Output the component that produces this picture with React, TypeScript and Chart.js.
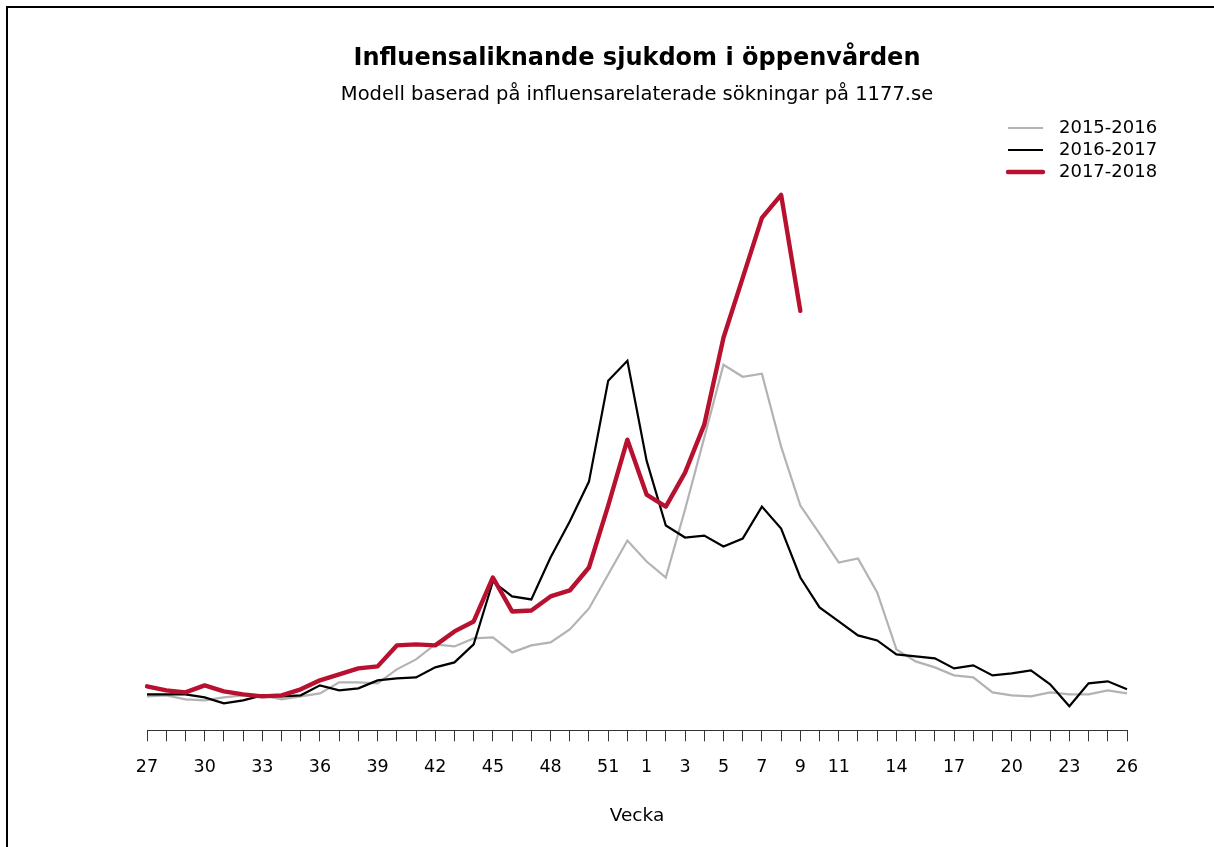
import React, { useEffect, useRef } from "react";
import { Chart, registerables } from "chart.js";

Chart.register(...registerables);

// Week categories (season runs from week 27 to week 26)
const weeks: string[] = [
  "27", "28", "29", "30", "31", "32", "33", "34", "35", "36", "37", "38", "39",
  "40", "41", "42", "43", "44", "45", "46", "47", "48", "49", "50", "51", "52",
  "1", "2", "3", "4", "5", "6", "7", "8", "9", "10", "11", "12", "13",
  "14", "15", "16", "17", "18", "19", "20", "21", "22", "23", "24", "25", "26",
];

// Week labels shown under the axis
const tickLabels: string[] = [
  "27", "30", "33", "36", "39", "42", "45", "48", "51",
  "1", "3", "5", "7", "9", "11", "14", "17", "20", "23", "26",
];

const seriesNames: string[] = ["2015-2016", "2016-2017", "2017-2018"];

const season1516: (number | null)[] = [
  6.8, 7.0, 6.2, 6.0, 6.6, 7.0, 7.0, 6.2, 6.8, 7.4, 9.6, 9.6, 9.4,
  12.2, 14.2, 17.2, 16.8, 18.4, 18.6, 15.6, 17.0, 17.6, 20.2, 24.4, 31.2, 38.0,
  33.8, 30.6, 44.2, 58.6, 73.2, 70.8, 71.4, 56.8, 45.0, 39.4, 33.6, 34.4, 27.6,
  16.2, 13.8, 12.6, 11.0, 10.6, 7.6, 7.0, 6.8, 7.6, 7.2, 7.2, 8.0, 7.4,
];

const season1617: (number | null)[] = [
  7.2, 7.2, 7.2, 6.6, 5.4, 6.0, 7.0, 6.8, 7.0, 9.0, 8.0, 8.4, 10.0,
  10.4, 10.6, 12.6, 13.6, 17.2, 29.8, 26.8, 26.2, 34.6, 41.8, 49.8, 70.0, 74.0,
  54.0, 41.0, 38.6, 39.0, 36.8, 38.4, 44.8, 40.4, 30.6, 24.6, 21.8, 19.0, 18.0,
  15.2, 14.8, 14.4, 12.4, 13.0, 11.0, 11.4, 12.0, 9.2, 4.8, 9.4, 9.8, 8.2,
];

const season1718: (number | null)[] = [
  8.8, 8.0, 7.6, 9.0, 7.8, 7.2, 6.8, 7.0, 8.2, 10.0, 11.2, 12.4, 12.8,
  17.0, 17.2, 17.0, 19.8, 21.8, 30.6, 23.8, 24.0, 26.8, 28.0, 32.6, 45.0, 58.2,
  47.2, 44.8, 51.6, 61.2, 78.6, 90.6, 102.6, 107.2, 84.0, null, null, null, null,
  null, null, null, null, null, null, null, null, null, null, null, null, null,
];

const FONT = '"DejaVu Sans", "Liberation Sans", sans-serif';

const lineLegend = {
  id: "lineLegend",
  afterDraw(chart: any) {
    const ctx: CanvasRenderingContext2D = chart.ctx;
    const ds = chart.data.datasets;
    const x0 = chart.chartArea.right - 119;
    const x1 = chart.chartArea.right - 84;
    const xt = chart.chartArea.right - 68;
    const yTop = chart.chartArea.top - 23;
    ctx.save();
    ds.forEach((d: any, i: number) => {
      const y = yTop + i * 22;
      ctx.beginPath();
      ctx.strokeStyle = d.borderColor;
      ctx.lineWidth = d.borderWidth;
      ctx.lineCap = d.borderCapStyle || "butt";
      ctx.moveTo(x0, y);
      ctx.lineTo(x1, y);
      ctx.stroke();
      ctx.fillStyle = "#000";
      ctx.font = `18px ${FONT}`;
      ctx.textAlign = "left";
      ctx.textBaseline = "middle";
      ctx.fillText(d.label, xt, y);
    });
    ctx.restore();
  },
};

export default function App() {
  const ref = useRef<HTMLCanvasElement | null>(null);

  useEffect(() => {
    if (!ref.current) return;
    const chart = new Chart(ref.current, {
      type: "line",
      data: {
        labels: weeks,
        datasets: [
          {
            label: seriesNames[0],
            data: season1516,
            borderColor: "#b3b3b3",
            borderWidth: 2.2,
            pointRadius: 0,
            tension: 0,
            order: 3,
          },
          {
            label: seriesNames[1],
            data: season1617,
            borderColor: "#000000",
            borderWidth: 2.2,
            pointRadius: 0,
            tension: 0,
            order: 2,
          },
          {
            label: seriesNames[2],
            data: season1718,
            borderColor: "#b8102f",
            borderWidth: 4.4,
            borderCapStyle: "round",
            borderJoinStyle: "round",
            pointRadius: 0,
            tension: 0,
            spanGaps: false,
            order: 1,
          },
        ],
      },
      options: {
        animation: false,
        responsive: false,
        devicePixelRatio: 1,
        layout: { padding: { left: 147, right: 87, top: 0, bottom: 20 } },
        plugins: {
          legend: { display: false },
          tooltip: { enabled: false },
          title: {
            display: true,
            text: "Influensaliknande sjukdom i öppenvården",
            color: "#000",
            font: { family: FONT, size: 24, weight: "bold" },
            padding: { top: 44, bottom: 0 },
          },
          subtitle: {
            display: true,
            text: "Modell baserad på influensarelaterade sökningar på 1177.se",
            color: "#000",
            font: { family: FONT, size: 19.5 },
            padding: { top: 10, bottom: 44.8 },
          },
        },
        scales: {
          x: {
            type: "category",
            offset: false,
            border: { display: true, color: "#333", width: 1 },
            grid: {
              display: true,
              drawOnChartArea: false,
              drawTicks: true,
              tickLength: 11,
              color: "#333",
              lineWidth: 1,
            },
            ticks: {
              autoSkip: false,
              maxRotation: 0,
              minRotation: 0,
              padding: 16,
              color: "#000",
              font: { family: FONT, size: 17.5 },
              callback: (_v: any, i: number) =>
                tickLabels.includes(weeks[i]) ? weeks[i] : "",
            },
            title: {
              display: true,
              text: "Vecka",
              color: "#000",
              font: { family: FONT, size: 18.5 },
              padding: { top: 10.5, bottom: 0 },
            },
          },
          y: {
            display: false,
            min: 0,
            max: 116,
          },
        },
      },
      plugins: [lineLegend],
    });
    return () => chart.destroy();
  }, []);

  return (
    <div
      style={{
        position: "fixed",
        left: 0,
        top: 0,
        width: 1214,
        height: 847,
        background: "#fff",
        overflow: "hidden",
      }}
    >
      <div
        style={{
          position: "absolute",
          left: 6,
          top: 6,
          right: 0,
          bottom: 0,
          borderTop: "2px solid #000",
          borderLeft: "2px solid #000",
        }}
      />
      <canvas
        ref={ref}
        width={1214}
        height={847}
        style={{ position: "absolute", left: 0, top: 0, width: 1214, height: 847 }}
      />
    </div>
  );
}
